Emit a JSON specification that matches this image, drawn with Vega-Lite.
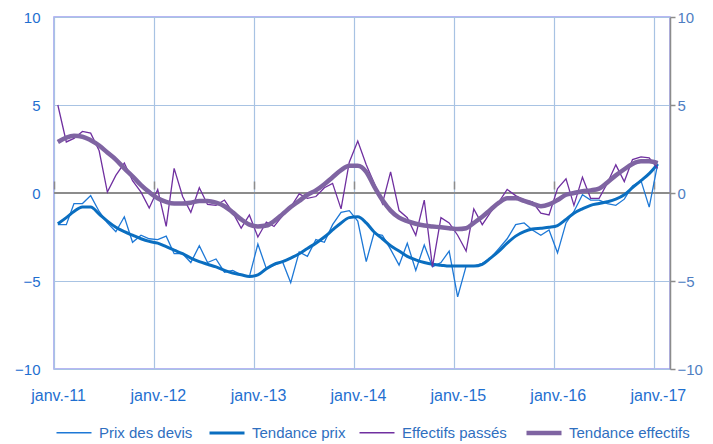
{
"$schema": "https://vega.github.io/schema/vega-lite/v6.json",
"width": 616, "height": 352,
"autosize": {"type": "none"},
"padding": {"left": 54, "top": 17, "right": 43, "bottom": 75},
"background": "white",
"config": {"view": {"stroke": "#A0A0F0", "strokeWidth": 1.5}, "font": "Liberation Sans"},
"datasets": {"t": [
{"date":"2011-01-15","serie":"Prix des devis","valeur":-1.8},{"date":"2011-02-15","serie":"Prix des devis","valeur":-1.8},{"date":"2011-03-15","serie":"Prix des devis","valeur":-0.6},{"date":"2011-04-15","serie":"Prix des devis","valeur":-0.6},{"date":"2011-05-15","serie":"Prix des devis","valeur":-0.15},{"date":"2011-06-15","serie":"Prix des devis","valeur":-1.05},{"date":"2011-07-15","serie":"Prix des devis","valeur":-1.7},{"date":"2011-08-15","serie":"Prix des devis","valeur":-2.2},{"date":"2011-09-15","serie":"Prix des devis","valeur":-1.35},{"date":"2011-10-15","serie":"Prix des devis","valeur":-2.8},{"date":"2011-11-15","serie":"Prix des devis","valeur":-2.4},{"date":"2011-12-15","serie":"Prix des devis","valeur":-2.6},
{"date":"2012-01-15","serie":"Prix des devis","valeur":-2.65},{"date":"2012-02-15","serie":"Prix des devis","valeur":-2.45},{"date":"2012-03-15","serie":"Prix des devis","valeur":-3.45},{"date":"2012-04-15","serie":"Prix des devis","valeur":-3.45},{"date":"2012-05-15","serie":"Prix des devis","valeur":-3.95},{"date":"2012-06-15","serie":"Prix des devis","valeur":-3.0},{"date":"2012-07-15","serie":"Prix des devis","valeur":-3.95},{"date":"2012-08-15","serie":"Prix des devis","valeur":-3.75},{"date":"2012-09-15","serie":"Prix des devis","valeur":-4.5},{"date":"2012-10-15","serie":"Prix des devis","valeur":-4.4},{"date":"2012-11-15","serie":"Prix des devis","valeur":-4.65},{"date":"2012-12-15","serie":"Prix des devis","valeur":-4.75},
{"date":"2013-01-15","serie":"Prix des devis","valeur":-2.9},{"date":"2013-02-15","serie":"Prix des devis","valeur":-4.3},{"date":"2013-03-15","serie":"Prix des devis","valeur":-4.1},{"date":"2013-04-15","serie":"Prix des devis","valeur":-3.9},{"date":"2013-05-15","serie":"Prix des devis","valeur":-5.1},{"date":"2013-06-15","serie":"Prix des devis","valeur":-3.35},{"date":"2013-07-15","serie":"Prix des devis","valeur":-3.6},{"date":"2013-08-15","serie":"Prix des devis","valeur":-2.65},{"date":"2013-09-15","serie":"Prix des devis","valeur":-2.8},{"date":"2013-10-15","serie":"Prix des devis","valeur":-1.8},{"date":"2013-11-15","serie":"Prix des devis","valeur":-1.1},{"date":"2013-12-15","serie":"Prix des devis","valeur":-1.0},
{"date":"2014-01-15","serie":"Prix des devis","valeur":-1.6},{"date":"2014-02-15","serie":"Prix des devis","valeur":-3.9},{"date":"2014-03-15","serie":"Prix des devis","valeur":-2.3},{"date":"2014-04-15","serie":"Prix des devis","valeur":-2.4},{"date":"2014-05-15","serie":"Prix des devis","valeur":-3.2},{"date":"2014-06-15","serie":"Prix des devis","valeur":-4.1},{"date":"2014-07-15","serie":"Prix des devis","valeur":-2.85},{"date":"2014-08-15","serie":"Prix des devis","valeur":-4.4},{"date":"2014-09-15","serie":"Prix des devis","valeur":-2.95},{"date":"2014-10-15","serie":"Prix des devis","valeur":-4.2},{"date":"2014-11-15","serie":"Prix des devis","valeur":-3.95},{"date":"2014-12-15","serie":"Prix des devis","valeur":-3.3},
{"date":"2015-01-15","serie":"Prix des devis","valeur":-5.9},{"date":"2015-02-15","serie":"Prix des devis","valeur":-4.15},{"date":"2015-03-15","serie":"Prix des devis","valeur":-4.15},{"date":"2015-04-15","serie":"Prix des devis","valeur":-4.0},{"date":"2015-05-15","serie":"Prix des devis","valeur":-3.7},{"date":"2015-06-15","serie":"Prix des devis","valeur":-3.15},{"date":"2015-07-15","serie":"Prix des devis","valeur":-2.6},{"date":"2015-08-15","serie":"Prix des devis","valeur":-1.8},{"date":"2015-09-15","serie":"Prix des devis","valeur":-1.7},{"date":"2015-10-15","serie":"Prix des devis","valeur":-2.1},{"date":"2015-11-15","serie":"Prix des devis","valeur":-2.4},{"date":"2015-12-15","serie":"Prix des devis","valeur":-2.1},
{"date":"2016-01-15","serie":"Prix des devis","valeur":-3.4},{"date":"2016-02-15","serie":"Prix des devis","valeur":-1.7},{"date":"2016-03-15","serie":"Prix des devis","valeur":-1.05},{"date":"2016-04-15","serie":"Prix des devis","valeur":-0.1},{"date":"2016-05-15","serie":"Prix des devis","valeur":-0.4},{"date":"2016-06-15","serie":"Prix des devis","valeur":-0.4},{"date":"2016-07-15","serie":"Prix des devis","valeur":-0.6},{"date":"2016-08-15","serie":"Prix des devis","valeur":-0.7},{"date":"2016-09-15","serie":"Prix des devis","valeur":-0.35},{"date":"2016-10-15","serie":"Prix des devis","valeur":0.4},{"date":"2016-11-15","serie":"Prix des devis","valeur":0.7},{"date":"2016-12-15","serie":"Prix des devis","valeur":-0.8},
{"date":"2017-01-15","serie":"Prix des devis","valeur":1.65},
{"date":"2011-01-15","serie":"Tendance prix","valeur":-1.75},{"date":"2011-02-15","serie":"Tendance prix","valeur":-1.4},{"date":"2011-03-15","serie":"Tendance prix","valeur":-1.05},{"date":"2011-04-15","serie":"Tendance prix","valeur":-0.8},{"date":"2011-05-15","serie":"Tendance prix","valeur":-0.8},{"date":"2011-06-15","serie":"Tendance prix","valeur":-1.2},{"date":"2011-07-15","serie":"Tendance prix","valeur":-1.6},{"date":"2011-08-15","serie":"Tendance prix","valeur":-1.95},{"date":"2011-09-15","serie":"Tendance prix","valeur":-2.2},{"date":"2011-10-15","serie":"Tendance prix","valeur":-2.4},{"date":"2011-11-15","serie":"Tendance prix","valeur":-2.6},{"date":"2011-12-15","serie":"Tendance prix","valeur":-2.75},
{"date":"2012-01-15","serie":"Tendance prix","valeur":-2.85},{"date":"2012-02-15","serie":"Tendance prix","valeur":-3.05},{"date":"2012-03-15","serie":"Tendance prix","valeur":-3.25},{"date":"2012-04-15","serie":"Tendance prix","valeur":-3.45},{"date":"2012-05-15","serie":"Tendance prix","valeur":-3.7},{"date":"2012-06-15","serie":"Tendance prix","valeur":-3.9},{"date":"2012-07-15","serie":"Tendance prix","valeur":-4.05},{"date":"2012-08-15","serie":"Tendance prix","valeur":-4.2},{"date":"2012-09-15","serie":"Tendance prix","valeur":-4.4},{"date":"2012-10-15","serie":"Tendance prix","valeur":-4.55},{"date":"2012-11-15","serie":"Tendance prix","valeur":-4.65},{"date":"2012-12-15","serie":"Tendance prix","valeur":-4.75},
{"date":"2013-01-15","serie":"Tendance prix","valeur":-4.65},{"date":"2013-02-15","serie":"Tendance prix","valeur":-4.3},{"date":"2013-03-15","serie":"Tendance prix","valeur":-4.05},{"date":"2013-04-15","serie":"Tendance prix","valeur":-3.9},{"date":"2013-05-15","serie":"Tendance prix","valeur":-3.7},{"date":"2013-06-15","serie":"Tendance prix","valeur":-3.45},{"date":"2013-07-15","serie":"Tendance prix","valeur":-3.15},{"date":"2013-08-15","serie":"Tendance prix","valeur":-2.85},{"date":"2013-09-15","serie":"Tendance prix","valeur":-2.5},{"date":"2013-10-15","serie":"Tendance prix","valeur":-2.1},{"date":"2013-11-15","serie":"Tendance prix","valeur":-1.7},{"date":"2013-12-15","serie":"Tendance prix","valeur":-1.4},
{"date":"2014-01-15","serie":"Tendance prix","valeur":-1.35},{"date":"2014-02-15","serie":"Tendance prix","valeur":-1.7},{"date":"2014-03-15","serie":"Tendance prix","valeur":-2.2},{"date":"2014-04-15","serie":"Tendance prix","valeur":-2.6},{"date":"2014-05-15","serie":"Tendance prix","valeur":-3.0},{"date":"2014-06-15","serie":"Tendance prix","valeur":-3.3},{"date":"2014-07-15","serie":"Tendance prix","valeur":-3.6},{"date":"2014-08-15","serie":"Tendance prix","valeur":-3.8},{"date":"2014-09-15","serie":"Tendance prix","valeur":-3.95},{"date":"2014-10-15","serie":"Tendance prix","valeur":-4.05},{"date":"2014-11-15","serie":"Tendance prix","valeur":-4.1},{"date":"2014-12-15","serie":"Tendance prix","valeur":-4.15},
{"date":"2015-01-15","serie":"Tendance prix","valeur":-4.15},{"date":"2015-02-15","serie":"Tendance prix","valeur":-4.15},{"date":"2015-03-15","serie":"Tendance prix","valeur":-4.15},{"date":"2015-04-15","serie":"Tendance prix","valeur":-4.05},{"date":"2015-05-15","serie":"Tendance prix","valeur":-3.7},{"date":"2015-06-15","serie":"Tendance prix","valeur":-3.3},{"date":"2015-07-15","serie":"Tendance prix","valeur":-2.85},{"date":"2015-08-15","serie":"Tendance prix","valeur":-2.45},{"date":"2015-09-15","serie":"Tendance prix","valeur":-2.2},{"date":"2015-10-15","serie":"Tendance prix","valeur":-2.05},{"date":"2015-11-15","serie":"Tendance prix","valeur":-2.0},{"date":"2015-12-15","serie":"Tendance prix","valeur":-1.95},
{"date":"2016-01-15","serie":"Tendance prix","valeur":-1.85},{"date":"2016-02-15","serie":"Tendance prix","valeur":-1.5},{"date":"2016-03-15","serie":"Tendance prix","valeur":-1.15},{"date":"2016-04-15","serie":"Tendance prix","valeur":-0.9},{"date":"2016-05-15","serie":"Tendance prix","valeur":-0.7},{"date":"2016-06-15","serie":"Tendance prix","valeur":-0.6},{"date":"2016-07-15","serie":"Tendance prix","valeur":-0.5},{"date":"2016-08-15","serie":"Tendance prix","valeur":-0.35},{"date":"2016-09-15","serie":"Tendance prix","valeur":-0.1},{"date":"2016-10-15","serie":"Tendance prix","valeur":0.3},{"date":"2016-11-15","serie":"Tendance prix","valeur":0.7},{"date":"2016-12-15","serie":"Tendance prix","valeur":1.1},
{"date":"2017-01-15","serie":"Tendance prix","valeur":1.65},
{"date":"2011-01-15","serie":"Effectifs passés","valeur":5.0},{"date":"2011-02-15","serie":"Effectifs passés","valeur":2.9},{"date":"2011-03-15","serie":"Effectifs passés","valeur":3.1},{"date":"2011-04-15","serie":"Effectifs passés","valeur":3.5},{"date":"2011-05-15","serie":"Effectifs passés","valeur":3.4},{"date":"2011-06-15","serie":"Effectifs passés","valeur":2.4},{"date":"2011-07-15","serie":"Effectifs passés","valeur":0.05},{"date":"2011-08-15","serie":"Effectifs passés","valeur":1.0},{"date":"2011-09-15","serie":"Effectifs passés","valeur":1.7},{"date":"2011-10-15","serie":"Effectifs passés","valeur":0.7},{"date":"2011-11-15","serie":"Effectifs passés","valeur":0.05},{"date":"2011-12-15","serie":"Effectifs passés","valeur":-0.85},
{"date":"2012-01-15","serie":"Effectifs passés","valeur":0.2},{"date":"2012-02-15","serie":"Effectifs passés","valeur":-1.9},{"date":"2012-03-15","serie":"Effectifs passés","valeur":1.4},{"date":"2012-04-15","serie":"Effectifs passés","valeur":-0.2},{"date":"2012-05-15","serie":"Effectifs passés","valeur":-1.1},{"date":"2012-06-15","serie":"Effectifs passés","valeur":0.3},{"date":"2012-07-15","serie":"Effectifs passés","valeur":-0.65},{"date":"2012-08-15","serie":"Effectifs passés","valeur":-0.7},{"date":"2012-09-15","serie":"Effectifs passés","valeur":-0.4},{"date":"2012-10-15","serie":"Effectifs passés","valeur":-1.1},{"date":"2012-11-15","serie":"Effectifs passés","valeur":-2.0},{"date":"2012-12-15","serie":"Effectifs passés","valeur":-1.25},
{"date":"2013-01-15","serie":"Effectifs passés","valeur":-2.5},{"date":"2013-02-15","serie":"Effectifs passés","valeur":-1.65},{"date":"2013-03-15","serie":"Effectifs passés","valeur":-1.9},{"date":"2013-04-15","serie":"Effectifs passés","valeur":-1.3},{"date":"2013-05-15","serie":"Effectifs passés","valeur":-0.8},{"date":"2013-06-15","serie":"Effectifs passés","valeur":-0.05},{"date":"2013-07-15","serie":"Effectifs passés","valeur":-0.3},{"date":"2013-08-15","serie":"Effectifs passés","valeur":-0.2},{"date":"2013-09-15","serie":"Effectifs passés","valeur":0.3},{"date":"2013-10-15","serie":"Effectifs passés","valeur":0.55},{"date":"2013-11-15","serie":"Effectifs passés","valeur":-0.9},{"date":"2013-12-15","serie":"Effectifs passés","valeur":1.75},
{"date":"2014-01-15","serie":"Effectifs passés","valeur":2.95},{"date":"2014-02-15","serie":"Effectifs passés","valeur":1.6},{"date":"2014-03-15","serie":"Effectifs passés","valeur":0.6},{"date":"2014-04-15","serie":"Effectifs passés","valeur":-0.6},{"date":"2014-05-15","serie":"Effectifs passés","valeur":1.2},{"date":"2014-06-15","serie":"Effectifs passés","valeur":-1.0},{"date":"2014-07-15","serie":"Effectifs passés","valeur":-1.4},{"date":"2014-08-15","serie":"Effectifs passés","valeur":-2.4},{"date":"2014-09-15","serie":"Effectifs passés","valeur":-0.4},{"date":"2014-10-15","serie":"Effectifs passés","valeur":-4.2},{"date":"2014-11-15","serie":"Effectifs passés","valeur":-1.4},{"date":"2014-12-15","serie":"Effectifs passés","valeur":-1.7},
{"date":"2015-01-15","serie":"Effectifs passés","valeur":-2.4},{"date":"2015-02-15","serie":"Effectifs passés","valeur":-3.3},{"date":"2015-03-15","serie":"Effectifs passés","valeur":-0.9},{"date":"2015-04-15","serie":"Effectifs passés","valeur":-1.8},{"date":"2015-05-15","serie":"Effectifs passés","valeur":-1.1},{"date":"2015-06-15","serie":"Effectifs passés","valeur":-0.5},{"date":"2015-07-15","serie":"Effectifs passés","valeur":0.2},{"date":"2015-08-15","serie":"Effectifs passés","valeur":-0.15},{"date":"2015-09-15","serie":"Effectifs passés","valeur":-0.4},{"date":"2015-10-15","serie":"Effectifs passés","valeur":-0.5},{"date":"2015-11-15","serie":"Effectifs passés","valeur":-1.15},{"date":"2015-12-15","serie":"Effectifs passés","valeur":-1.25},
{"date":"2016-01-15","serie":"Effectifs passés","valeur":0.25},{"date":"2016-02-15","serie":"Effectifs passés","valeur":0.8},{"date":"2016-03-15","serie":"Effectifs passés","valeur":-0.7},{"date":"2016-04-15","serie":"Effectifs passés","valeur":0.9},{"date":"2016-05-15","serie":"Effectifs passés","valeur":-0.3},{"date":"2016-06-15","serie":"Effectifs passés","valeur":-0.3},{"date":"2016-07-15","serie":"Effectifs passés","valeur":0.55},{"date":"2016-08-15","serie":"Effectifs passés","valeur":1.6},{"date":"2016-09-15","serie":"Effectifs passés","valeur":0.65},{"date":"2016-10-15","serie":"Effectifs passés","valeur":1.9},{"date":"2016-11-15","serie":"Effectifs passés","valeur":2.05},{"date":"2016-12-15","serie":"Effectifs passés","valeur":2.0},
{"date":"2017-01-15","serie":"Effectifs passés","valeur":1.4},
{"date":"2011-01-15","serie":"Tendance effectifs","valeur":2.9},{"date":"2011-02-15","serie":"Tendance effectifs","valeur":3.15},{"date":"2011-03-15","serie":"Tendance effectifs","valeur":3.25},{"date":"2011-04-15","serie":"Tendance effectifs","valeur":3.2},{"date":"2011-05-15","serie":"Tendance effectifs","valeur":3.0},{"date":"2011-06-15","serie":"Tendance effectifs","valeur":2.7},{"date":"2011-07-15","serie":"Tendance effectifs","valeur":2.3},{"date":"2011-08-15","serie":"Tendance effectifs","valeur":1.9},{"date":"2011-09-15","serie":"Tendance effectifs","valeur":1.4},{"date":"2011-10-15","serie":"Tendance effectifs","valeur":0.95},{"date":"2011-11-15","serie":"Tendance effectifs","valeur":0.45},{"date":"2011-12-15","serie":"Tendance effectifs","valeur":0.05},
{"date":"2012-01-15","serie":"Tendance effectifs","valeur":-0.3},{"date":"2012-02-15","serie":"Tendance effectifs","valeur":-0.5},{"date":"2012-03-15","serie":"Tendance effectifs","valeur":-0.6},{"date":"2012-04-15","serie":"Tendance effectifs","valeur":-0.6},{"date":"2012-05-15","serie":"Tendance effectifs","valeur":-0.55},{"date":"2012-06-15","serie":"Tendance effectifs","valeur":-0.45},{"date":"2012-07-15","serie":"Tendance effectifs","valeur":-0.45},{"date":"2012-08-15","serie":"Tendance effectifs","valeur":-0.55},{"date":"2012-09-15","serie":"Tendance effectifs","valeur":-0.75},{"date":"2012-10-15","serie":"Tendance effectifs","valeur":-1.1},{"date":"2012-11-15","serie":"Tendance effectifs","valeur":-1.5},{"date":"2012-12-15","serie":"Tendance effectifs","valeur":-1.8},
{"date":"2013-01-15","serie":"Tendance effectifs","valeur":-1.9},{"date":"2013-02-15","serie":"Tendance effectifs","valeur":-1.85},{"date":"2013-03-15","serie":"Tendance effectifs","valeur":-1.6},{"date":"2013-04-15","serie":"Tendance effectifs","valeur":-1.2},{"date":"2013-05-15","serie":"Tendance effectifs","valeur":-0.8},{"date":"2013-06-15","serie":"Tendance effectifs","valeur":-0.45},{"date":"2013-07-15","serie":"Tendance effectifs","valeur":-0.1},{"date":"2013-08-15","serie":"Tendance effectifs","valeur":0.15},{"date":"2013-09-15","serie":"Tendance effectifs","valeur":0.5},{"date":"2013-10-15","serie":"Tendance effectifs","valeur":0.9},{"date":"2013-11-15","serie":"Tendance effectifs","valeur":1.3},{"date":"2013-12-15","serie":"Tendance effectifs","valeur":1.55},
{"date":"2014-01-15","serie":"Tendance effectifs","valeur":1.55},{"date":"2014-02-15","serie":"Tendance effectifs","valeur":1.2},{"date":"2014-03-15","serie":"Tendance effectifs","valeur":0.4},{"date":"2014-04-15","serie":"Tendance effectifs","valeur":-0.4},{"date":"2014-05-15","serie":"Tendance effectifs","valeur":-1.0},{"date":"2014-06-15","serie":"Tendance effectifs","valeur":-1.4},{"date":"2014-07-15","serie":"Tendance effectifs","valeur":-1.6},{"date":"2014-08-15","serie":"Tendance effectifs","valeur":-1.75},{"date":"2014-09-15","serie":"Tendance effectifs","valeur":-1.85},{"date":"2014-10-15","serie":"Tendance effectifs","valeur":-1.9},{"date":"2014-11-15","serie":"Tendance effectifs","valeur":-1.95},{"date":"2014-12-15","serie":"Tendance effectifs","valeur":-2.0},
{"date":"2015-01-15","serie":"Tendance effectifs","valeur":-2.05},{"date":"2015-02-15","serie":"Tendance effectifs","valeur":-2.0},{"date":"2015-03-15","serie":"Tendance effectifs","valeur":-1.7},{"date":"2015-04-15","serie":"Tendance effectifs","valeur":-1.35},{"date":"2015-05-15","serie":"Tendance effectifs","valeur":-0.95},{"date":"2015-06-15","serie":"Tendance effectifs","valeur":-0.55},{"date":"2015-07-15","serie":"Tendance effectifs","valeur":-0.3},{"date":"2015-08-15","serie":"Tendance effectifs","valeur":-0.3},{"date":"2015-09-15","serie":"Tendance effectifs","valeur":-0.45},{"date":"2015-10-15","serie":"Tendance effectifs","valeur":-0.6},{"date":"2015-11-15","serie":"Tendance effectifs","valeur":-0.75},{"date":"2015-12-15","serie":"Tendance effectifs","valeur":-0.65},
{"date":"2016-01-15","serie":"Tendance effectifs","valeur":-0.4},{"date":"2016-02-15","serie":"Tendance effectifs","valeur":-0.1},{"date":"2016-03-15","serie":"Tendance effectifs","valeur":0.0},{"date":"2016-04-15","serie":"Tendance effectifs","valeur":0.1},{"date":"2016-05-15","serie":"Tendance effectifs","valeur":0.15},{"date":"2016-06-15","serie":"Tendance effectifs","valeur":0.25},{"date":"2016-07-15","serie":"Tendance effectifs","valeur":0.6},{"date":"2016-08-15","serie":"Tendance effectifs","valeur":1.0},{"date":"2016-09-15","serie":"Tendance effectifs","valeur":1.35},{"date":"2016-10-15","serie":"Tendance effectifs","valeur":1.65},{"date":"2016-11-15","serie":"Tendance effectifs","valeur":1.8},{"date":"2016-12-15","serie":"Tendance effectifs","valeur":1.8},
{"date":"2017-01-15","serie":"Tendance effectifs","valeur":1.7}
]},
"layer": [
{
"data": {"values": [{}]},
"mark": {"type": "rule", "color": "#8C8C8C", "strokeWidth": 2},
"encoding": {
"y": {"datum": 0, "type": "quantitative", "scale": {"domain": [-10, 10]},
"axis": {"orient": "right", "values": [-10, -5, 0, 5, 10], "grid": false, "domain": true, "domainColor": "#8C8C8C", "domainWidth": 1.5, "ticks": true, "tickColor": "#8C8C8C", "tickSize": 5, "tickWidth": 1.5, "labelColor": "#4F7EC2", "labelFontSize": 15, "labelPadding": 2, "labelFlush": false, "labelOverlap": false, "title": null}}
}
},
{
"data": {"name": "t"},
"transform": [{"filter": "datum.serie === 'Prix des devis'"}],
"mark": {"type": "point", "opacity": 0},
"encoding": {
"x": {"field": "date", "type": "temporal",
"scale": {"type": "utc", "domain": [{"year": 2011, "month": 1, "date": 1, "utc": true}, {"year": 2017, "month": 3, "date": 1, "utc": true}]},
"axis": {"orient": "top", "offset": -172, "values": [{"year": 2011, "month": 1, "date": 1, "utc": true}, {"year": 2012, "month": 1, "date": 1, "utc": true}, {"year": 2013, "month": 1, "date": 1, "utc": true}, {"year": 2014, "month": 1, "date": 1, "utc": true}, {"year": 2015, "month": 1, "date": 1, "utc": true}, {"year": 2016, "month": 1, "date": 1, "utc": true}, {"year": 2017, "month": 1, "date": 1, "utc": true}],
"domain": false, "grid": false, "labels": false, "ticks": true, "tickColor": "#8C8C8C", "tickSize": 8, "tickWidth": 1.5, "title": null}},
"y": {"field": "valeur", "type": "quantitative", "scale": {"domain": [-10, 10]}, "axis": null}
}
},
{
"data": {"name": "t"},
"transform": [{"filter": "datum.serie === 'Prix des devis'"}],
"mark": {"type": "line", "interpolate": "linear"},
"encoding": {
"x": {"field": "date", "type": "temporal",
"scale": {"type": "utc", "domain": [{"year": 2011, "month": 1, "date": 1, "utc": true}, {"year": 2017, "month": 3, "date": 1, "utc": true}]},
"axis": {"orient": "bottom", "values": [{"year": 2011, "month": 1, "date": 1, "utc": true}, {"year": 2012, "month": 1, "date": 1, "utc": true}, {"year": 2013, "month": 1, "date": 1, "utc": true}, {"year": 2014, "month": 1, "date": 1, "utc": true}, {"year": 2015, "month": 1, "date": 1, "utc": true}, {"year": 2016, "month": 1, "date": 1, "utc": true}, {"year": 2017, "month": 1, "date": 1, "utc": true}],
"labelExpr": "'janv.-' + utcFormat(datum.value, '%y')", "domain": false, "ticks": false, "grid": true, "gridColor": "#A8C3E3", "gridWidth": 1.2,
"labelColor": "#1F6FD0", "labelFontSize": 16, "labelPadding": 18, "labelOffset": 4, "labelFlush": false, "labelOverlap": false, "title": null}},
"y": {"field": "valeur", "type": "quantitative", "scale": {"domain": [-10, 10]},
"axis": {"orient": "left", "values": [-10, -5, 0, 5, 10], "grid": true, "gridColor": "#A8C3E3", "gridWidth": 1.2, "domain": false, "ticks": false, "labelColor": "#1F6FD0", "labelFontSize": 15, "labelPadding": 14, "labelFlush": false, "labelOverlap": false, "title": null}},
"color": {"field": "serie", "type": "nominal",
"scale": {"domain": ["Prix des devis", "Tendance prix", "Effectifs passés", "Tendance effectifs"], "range": ["#1D78D6", "#0A6EC0", "#7030A0", "#7F64A2"]},
"legend": {"orient": "none", "legendX": 0, "legendY": 396, "direction": "horizontal", "columns": 4, "symbolType": "stroke", "symbolSize": 1225, "labelFontSize": 15, "labelColor": "#2F6FBF", "labelOffset": 5, "columnPadding": 10, "title": null, "labelLimit": 300}},
"strokeWidth": {"field": "serie", "type": "nominal",
"scale": {"type": "ordinal", "domain": ["Prix des devis", "Tendance prix", "Effectifs passés", "Tendance effectifs"], "range": [1.3, 3, 1.3, 4.5]},
"legend": {"orient": "none", "legendX": 0, "legendY": 396, "direction": "horizontal", "columns": 4, "symbolType": "stroke", "symbolSize": 1225, "labelFontSize": 15, "labelColor": "#2F6FBF", "labelOffset": 5, "columnPadding": 10, "title": null, "labelLimit": 300}}
}
},
{
"data": {"name": "t"},
"transform": [{"filter": "datum.serie === 'Tendance prix'"}],
"mark": {"type": "line", "interpolate": "monotone"},
"encoding": {
"x": {"field": "date", "type": "temporal", "axis": null},
"y": {"field": "valeur", "type": "quantitative", "axis": null},
"color": {"field": "serie", "type": "nominal"},
"strokeWidth": {"field": "serie", "type": "nominal", "scale": {"type": "ordinal", "domain": ["Prix des devis", "Tendance prix", "Effectifs passés", "Tendance effectifs"], "range": [1.3, 3, 1.3, 4.5]}}
}
},
{
"data": {"name": "t"},
"transform": [{"filter": "datum.serie === 'Effectifs passés'"}],
"mark": {"type": "line", "interpolate": "linear"},
"encoding": {
"x": {"field": "date", "type": "temporal", "axis": null},
"y": {"field": "valeur", "type": "quantitative", "axis": null},
"color": {"field": "serie", "type": "nominal"},
"strokeWidth": {"field": "serie", "type": "nominal", "scale": {"type": "ordinal", "domain": ["Prix des devis", "Tendance prix", "Effectifs passés", "Tendance effectifs"], "range": [1.3, 3, 1.3, 4.5]}}
}
},
{
"data": {"name": "t"},
"transform": [{"filter": "datum.serie === 'Tendance effectifs'"}],
"mark": {"type": "line", "interpolate": "monotone"},
"encoding": {
"x": {"field": "date", "type": "temporal", "axis": null},
"y": {"field": "valeur", "type": "quantitative", "axis": null},
"color": {"field": "serie", "type": "nominal"},
"strokeWidth": {"field": "serie", "type": "nominal", "scale": {"type": "ordinal", "domain": ["Prix des devis", "Tendance prix", "Effectifs passés", "Tendance effectifs"], "range": [1.3, 3, 1.3, 4.5]}}
}
}
],
"resolve": {"axis": {"x": "independent", "y": "independent"}}
}
